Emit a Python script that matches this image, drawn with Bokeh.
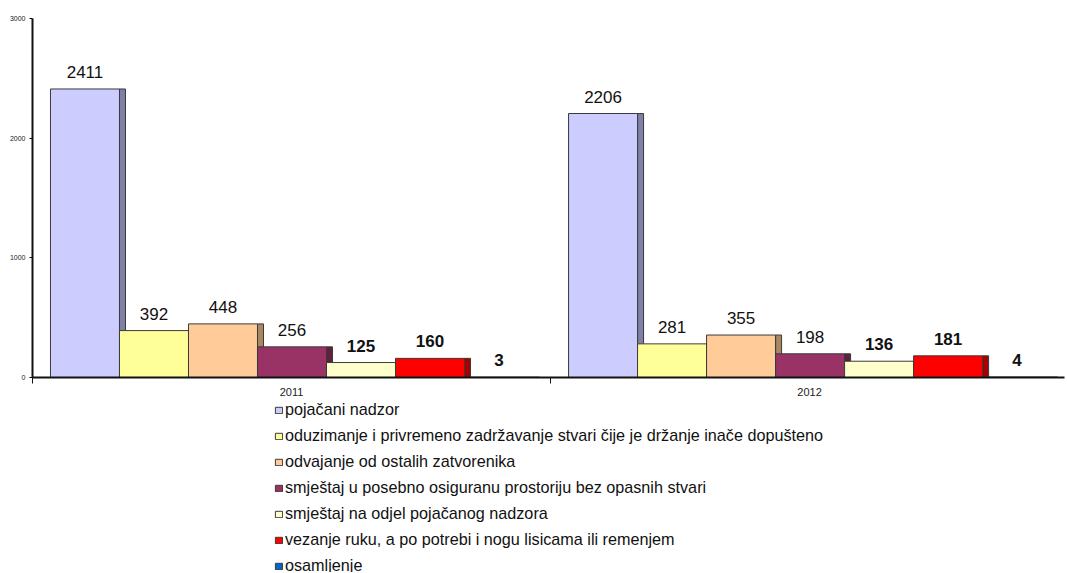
from bokeh.plotting import figure
from bokeh.layouts import column
from bokeh.models import ColumnDataSource, Range1d, FixedTicker, Legend, LegendItem
from bokeh.core.properties import value
from bokeh.embed import file_html
from bokeh.resources import INLINE

years = ["2011", "2012"]
series = [
    "pojačani nadzor",
    "oduzimanje i privremeno zadržavanje stvari čije je držanje inače dopušteno",
    "odvajanje od ostalih zatvorenika",
    "smještaj u posebno osiguranu prostoriju bez opasnih stvari",
    "smještaj na odjel pojačanog nadzora",
    "vezanje ruku, a po potrebi i nogu lisicama ili remenjem",
    "osamljenje",
]
vals_2011 = [2411, 392, 448, 256, 125, 160, 3]
vals_2012 = [2206, 281, 355, 198, 136, 181, 4]
bold_label = [False, False, False, False, True, True, True]
fill_colors = ["#CCCCFF", "#FFFF99", "#FFCC99", "#993366", "#FFFFCC", "#FF0000", "#0066CC"]
side_colors = ["#7F7FA8", "#A8A860", "#A88860", "#602040", "#A8A888", "#A80000", "#003A78"]
y_ticks = [0, 1000, 2000, 3000]

FONT = "Liberation Sans"
W = 1066

p = figure(width=W, height=400, x_range=Range1d(0, 1.992), y_range=Range1d(0, 3000),
           output_backend="svg", toolbar_location=None,
           min_border_left=32, min_border_right=2, min_border_top=18, min_border_bottom=23)
p.outline_line_color = None
p.xgrid.visible = False
p.ygrid.visible = False

# legend panel figure (no axes)
q = figure(width=W, height=172, x_range=Range1d(0, 1), y_range=Range1d(0, 1),
           output_backend="svg", toolbar_location=None,
           x_axis_location=None, y_axis_location=None,
           min_border=0, min_border_left=0, min_border_right=0, min_border_top=0, min_border_bottom=0)
q.xgrid.visible = False
q.ygrid.visible = False
q.outline_line_color = None

bar_w = 0.1332
side_w = 0.0116
start = 0.0347
outline = "#3A3A3A"

items = []
for i, name in enumerate(series):
    vals = [vals_2011[i], vals_2012[i]]
    xs = [g + start + (i + 0.5) * bar_w for g in range(len(years))]
    xs_side = [x + bar_w / 2 + side_w / 2 for x in xs]
    src = ColumnDataSource(dict(x=xs, xs=xs_side, top=vals, lab=[str(v) for v in vals]))
    p.vbar(x="xs", top="top", bottom=0, width=side_w, source=src,
           fill_color=side_colors[i], line_color=outline, line_width=1)
    p.vbar(x="x", top="top", bottom=0, width=bar_w, source=src,
           fill_color=fill_colors[i], line_color=outline, line_width=1)
    p.text(x="x", y="top", text="lab", source=src, text_align="center",
           text_baseline="alphabetic", y_offset=-17,
           text_font=value(FONT), text_font_size="17px",
           text_font_style="bold" if bold_label[i] else "normal",
           text_color="#111111")
    # hidden copy in the legend figure, only used for the legend swatch
    r = q.vbar(x="x", top="top", bottom=0, width=bar_w, source=src,
               fill_color=fill_colors[i], line_color=outline, line_width=1, visible=False)
    items.append(LegendItem(label=name, renderers=[r]))

# axes
p.yaxis.ticker = FixedTicker(ticks=y_ticks)
p.yaxis.major_label_text_font = FONT
p.yaxis.major_label_text_font_size = "7px"
p.yaxis.major_label_text_color = "#222222"
p.yaxis.major_tick_out = 3
p.yaxis.major_tick_in = 0
p.yaxis.minor_tick_line_color = None
p.yaxis.axis_line_width = 2
p.yaxis.axis_line_color = "#111111"
p.yaxis.major_label_standoff = 4

p.xaxis.ticker = FixedTicker(ticks=[0.5, 1.5], minor_ticks=[0, 1, 2])
p.xaxis.major_label_overrides = {0.5: years[0], 1.5: years[1]}
p.xaxis.major_label_text_font = FONT
p.xaxis.major_label_text_font_size = "11px"
p.xaxis.major_label_text_color = "#222222"
p.xaxis.major_tick_line_color = None
p.xaxis.major_tick_out = 6
p.xaxis.major_label_standoff = 4
p.xaxis.minor_tick_out = 6
p.xaxis.minor_tick_in = 0
p.xaxis.minor_tick_line_color = "#111111"
p.xaxis.axis_line_width = 2
p.xaxis.axis_line_color = "#111111"

legend = Legend(items=items, location=(242, -3), orientation="vertical",
                padding=0, margin=0, border_line_color=None, background_fill_alpha=0,
                inactive_fill_alpha=0,
                glyph_width=9, glyph_height=8, label_standoff=2, spacing=7,
                label_height=16, label_text_font=FONT, label_text_font_size="16.2px",
                label_text_color="#111111")
q.add_layout(legend, "center")

layout = column(p, q, spacing=0)
open("out.html", "w").write(file_html(layout, INLINE))
